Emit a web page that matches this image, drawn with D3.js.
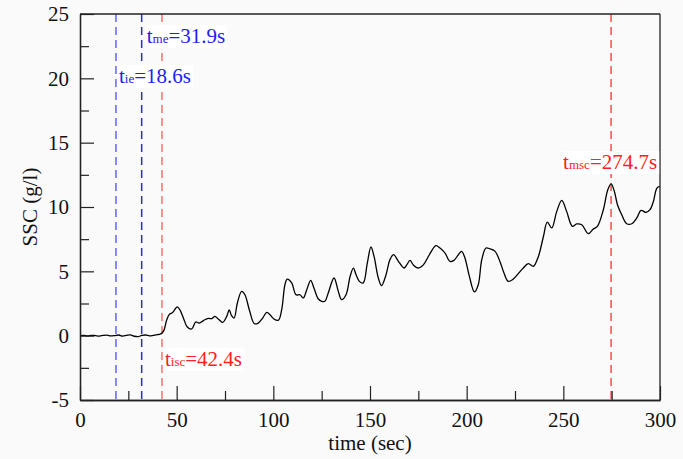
<!DOCTYPE html>
<html>
<head>
<meta charset="utf-8">
<script src="https://cdn.jsdelivr.net/npm/d3@7/dist/d3.min.js"></script>
</head>
<body style="margin:0; background:#fafafa">
<svg id="chart" width="683" height="459" font-family="Liberation Serif" style="display:block"></svg>
<script>
// Suspended sediment concentration record
const timeSec = [
  0, 2, 4, 6, 8, 10, 12, 14, 16, 18, 20, 22, 24, 26, 28, 30, 32, 34, 36, 38, 40, 41.5, 42.4,
  43.5, 44.8, 46.2, 47.9, 50.3, 51.7, 53.8, 55.5, 57.8, 59.8, 61.7, 63.8, 66.4, 68.1, 69.8,
  71.5, 73.8, 75.9, 77.2, 78.4, 79.7, 81.4, 83.6, 85.3, 87.6, 90.2, 92.2, 94.5, 96.6, 98.3,
  100.3, 102.6, 104.3, 106, 107.2, 109.5, 111.7, 113.8, 115.5, 117.3, 119.3, 121, 123.3,
  125, 126.7, 128.4, 131.4, 133.6, 135.3, 137.6, 139.7, 141.4, 142.8, 144.5, 146.5, 148.6,
  150.5, 152.1, 154.3, 156, 158.3, 160.3, 162.2, 164.6, 167.6, 169, 170.7, 172.4, 175,
  177.6, 180.7, 184.1, 186.2, 188.8, 191.4, 193.4, 195.7, 197.4, 199.1, 201.4, 204, 206,
  207.8, 210, 212.1, 214.7, 217.2, 219.3, 221.5, 224.1, 226.7, 229.3, 231.9, 234.5, 237.1,
  239.7, 241.7, 244, 246.6, 249.2, 251.7, 254.7, 256.9, 259.5, 262.9, 265.5, 267.6, 270.7,
  273, 274.7, 276.4, 278, 280.2, 282.8, 285.4, 288, 290.2, 292.8, 294.8, 296.6, 298.4, 300
];
const ssc = [
  0.0, 0.02, -0.02, 0.03, 0.0, -0.03, 0.02, 0.04, -0.02, 0.01, 0.05, -0.03, 0.02, 0.06, -0.04, -0.08, 0.02, 0.05, -0.02, 0.03, 0.08, 0.12, 0.2,
  0.45, 1.2, 1.65, 1.8, 2.23, 2.0, 1.24, 0.67, 0.52, 1.06, 0.98, 1.17, 1.35, 1.32, 1.5,
  1.3, 1.03, 1.5, 2.0, 1.55, 1.37, 2.54, 3.44, 3.18, 2.0, 0.93, 0.98, 1.37, 1.81, 1.63,
  1.3, 1.2, 2.0, 3.96, 4.4, 4.1, 3.18, 3.18, 2.93, 3.57, 4.3, 3.7, 2.85,
  2.67, 2.67, 3.32, 4.48, 3.44, 2.8, 3.18, 4.6, 5.25, 4.74, 4.22, 4.1, 5.64,
  6.89, 6.16, 4.48, 3.89, 4.74, 5.9, 6.3, 5.8, 5.26, 5.5, 5.85, 5.5, 5.26,
  5.5, 6.29, 7.0, 6.81, 6.42, 5.77, 5.85, 6.29, 6.55, 6.04, 4.61, 3.4, 3.96,
  5.9, 6.81, 6.74, 6.55, 5.77, 4.87, 4.22, 4.4, 4.82, 5.26, 5.6, 5.39, 6.16,
  7.71, 8.83, 8.37, 9.66, 10.51, 9.66, 8.49, 8.68, 8.62, 7.93, 8.29, 8.49, 9.79,
  11.34, 11.8, 11.21, 10.18, 9.4, 8.7, 8.7, 9.15, 9.74, 9.58, 9.79, 10.44, 11.47, 11.6
];

// Characteristic times (s)
const markerNames = ["ie", "me", "isc", "msc"];
const markerTimes = [18.6, 31.9, 42.4, 274.7];

const xTicks = [0, 50, 100, 150, 200, 250, 300];
const yTicks = [-5, 0, 5, 10, 15, 20, 25];

const W = 683, H = 459;
const margin = { left: 80, right: 23, top: 14, bottom: 59 };
const svg = d3.select("#chart");

const x = d3.scaleLinear().domain([0, 300]).range([margin.left, W - margin.right]);
const y = d3.scaleLinear().domain([-5, 25]).range([H - margin.bottom, margin.top]);

const axisColor = "#222";
const fontSize = 21;

// Vertical dashed marker lines
const lineColor = { ie: "#6464ff", me: "#2a2ad8", isc: "#ff6e6e", msc: "#ff4a4a" };
svg.append("g").selectAll("line")
  .data(markerNames.map((n, i) => ({ name: n, t: markerTimes[i] })))
  .join("line")
  .attr("x1", d => x(d.t)).attr("x2", d => x(d.t))
  .attr("y1", y(25)).attr("y2", y(-5))
  .attr("stroke", d => lineColor[d.name])
  .attr("stroke-width", 1.5)
  .attr("stroke-dasharray", "8,5");

// Data line
svg.append("defs").append("clipPath").attr("id", "plot-clip")
  .append("rect")
  .attr("x", x(0)).attr("y", y(25))
  .attr("width", x(300) - x(0)).attr("height", y(-5) - y(25));

const line = d3.line()
  .x((d, i) => x(timeSec[i]))
  .y(d => y(d))
  .curve(d3.curveCatmullRom.alpha(0.5));

svg.append("path")
  .datum(ssc)
  .attr("clip-path", "url(#plot-clip)")
  .attr("fill", "none")
  .attr("stroke", "#000")
  .attr("stroke-width", 1.3)
  .attr("d", line);

// Axes: ticks pointing inward, minor ticks between labels
const plain = d => String(d);
const xAxis = d3.axisBottom(x).tickValues(xTicks).tickFormat(plain).tickSize(-14).tickPadding(12).tickSizeOuter(0);
const xMinor = d3.axisBottom(x).tickValues([25, 75, 125, 175, 225, 275]).tickSize(-9).tickFormat("").tickSizeOuter(0);
const yAxis = d3.axisLeft(y).tickValues(yTicks).tickFormat(plain).tickSize(-14).tickPadding(11).tickSizeOuter(0);
const yMinor = d3.axisLeft(y).tickValues([-2.5, 2.5, 7.5, 12.5, 17.5, 22.5]).tickSize(-9).tickFormat("").tickSizeOuter(0);

function styleAxis(g) {
  g.attr("font-family", "Liberation Serif").attr("font-size", fontSize);
  g.selectAll("path").attr("stroke", axisColor).attr("stroke-width", 1.3);
  g.selectAll("line").attr("stroke", axisColor).attr("stroke-width", 1.2);
  g.selectAll("text").attr("fill", "#111");
}

svg.append("g").attr("transform", `translate(0,${y(-5)})`).call(xAxis).call(styleAxis);
svg.append("g").attr("transform", `translate(0,${y(-5)})`).call(xMinor).call(styleAxis);
svg.append("g").attr("transform", `translate(${x(0)},0)`).call(yAxis).call(styleAxis);
svg.append("g").attr("transform", `translate(${x(0)},0)`).call(yMinor).call(styleAxis);

// Frame top and right
svg.append("line").attr("x1", x(0)).attr("x2", x(300)).attr("y1", y(25)).attr("y2", y(25))
  .attr("stroke", axisColor).attr("stroke-width", 1.3);
svg.append("line").attr("x1", x(300)).attr("x2", x(300)).attr("y1", y(25)).attr("y2", y(-5))
  .attr("stroke", axisColor).attr("stroke-width", 1.3);

// Axis titles
svg.append("text")
  .attr("x", (x(0) + x(300)) / 2).attr("y", 450)
  .attr("text-anchor", "middle")
  .attr("font-size", fontSize).attr("fill", "#111")
  .text("time (sec)");

svg.append("text")
  .attr("transform", `translate(37,${(y(-5) + y(25)) / 2}) rotate(-90)`)
  .attr("text-anchor", "middle")
  .attr("font-size", fontSize).attr("fill", "#111")
  .text("SSC (g/l)");

// Annotation labels with white backing boxes
const labelColor = { ie: "#2222ee", me: "#2222ee", isc: "#ff2020", msc: "#ff2020" };
const labelPos = {
  ie:  { dx: 3,   y: 83 },
  me:  { dx: 5,   y: 43 },
  isc: { dx: 3,   y: 366 },
  msc: { dx: -48, y: 169 }
};

const labels = markerNames.map((name, i) => {
  const t = markerTimes[i];
  const g = svg.append("g");
  const rect = g.append("rect").attr("fill", "#fff");
  const txt = g.append("text")
    .attr("x", x(t) + labelPos[name].dx)
    .attr("y", labelPos[name].y)
    .attr("fill", labelColor[name])
    .attr("font-size", fontSize);
  txt.append("tspan").text("t");
  txt.append("tspan").attr("font-size", 13).text(name);
  txt.append("tspan").text("=" + t.toFixed(1) + "s");
  return { rect, txt };
});

// size the backing boxes once the typeface is ready
function sizeBoxes() {
  labels.forEach(({ rect, txt }) => {
    const bb = txt.node().getBBox();
    rect.attr("x", bb.x - 2).attr("y", bb.y + 1)
      .attr("width", bb.width + 4).attr("height", bb.height - 1);
  });
}
(document.fonts ? document.fonts.ready : Promise.resolve()).then(sizeBoxes);
</script>
</body>
</html>
